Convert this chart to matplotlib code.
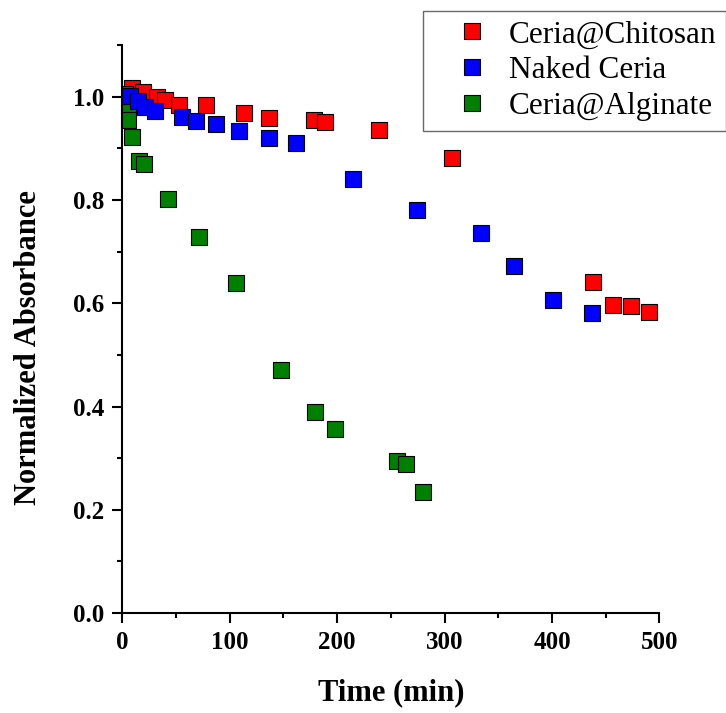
import matplotlib
matplotlib.use("Agg")
import matplotlib.pyplot as plt
from matplotlib.ticker import MultipleLocator

plt.rcParams['font.family'] = ['Liberation Serif', 'DejaVu Serif']

# Ceria@Chitosan
chitosan_t = [9, 19, 32, 40, 53, 78, 113, 137, 178, 189, 239, 307, 438, 457, 474, 490]
chitosan_a = [1.016, 1.010, 1.000, 0.994, 0.983, 0.983, 0.969, 0.959, 0.955, 0.951,
              0.936, 0.882, 0.641, 0.596, 0.594, 0.583]

# Naked Ceria
naked_t = [7, 15, 21, 30, 56, 69, 87, 109, 137, 162, 215, 274, 334, 365, 401, 437]
naked_a = [1.002, 0.992, 0.981, 0.973, 0.961, 0.953, 0.947, 0.934, 0.920, 0.911,
           0.841, 0.781, 0.736, 0.672, 0.606, 0.581]

# Ceria@Alginate
alginate_t = [2.5, 5, 5, 9, 15.5, 20, 42.5, 71, 106, 148, 179, 198, 256, 264, 280]
alginate_a = [1.006, 0.981, 0.955, 0.922, 0.876, 0.870, 0.802, 0.728, 0.639, 0.470,
              0.390, 0.357, 0.295, 0.289, 0.235]

fig = plt.figure(figsize=(7.26, 7.13), dpi=100)
ax = fig.add_axes([0.1685, 0.1402, 0.7397, 0.7966])

style = dict(linestyle='none', marker='s', markersize=11, markeredgecolor='black',
             markeredgewidth=0.8)
ax.plot(chitosan_t, chitosan_a, color='#FF0000', label='Ceria@Chitosan', **style)
ax.plot(alginate_t, alginate_a, color='#008000', label='Ceria@Alginate', zorder=2.1, **style)
ax.plot(naked_t, naked_a, color='#0000FF', label='Naked Ceria', zorder=2.2, **style)

ax.set_xlim(0, 500)
ax.set_ylim(0, 1.1)
ax.xaxis.set_major_locator(MultipleLocator(100))
ax.xaxis.set_minor_locator(MultipleLocator(50))
ax.yaxis.set_major_locator(MultipleLocator(0.2))
ax.yaxis.set_minor_locator(MultipleLocator(0.1))
ax.yaxis.set_major_formatter(plt.FormatStrFormatter('%.1f'))

ax.spines['top'].set_visible(False)
ax.spines['right'].set_visible(False)
for s in ['left', 'bottom']:
    ax.spines[s].set_linewidth(1.5)

ax.tick_params(which='major', direction='out', length=7, width=1.5, pad=6)
ax.tick_params(which='minor', direction='out', length=3.6, width=1.5)
for lab in ax.get_xticklabels() + ax.get_yticklabels():
    lab.set_fontsize(18)
    lab.set_fontweight('bold')

ax.set_xlabel('Time (min)', fontsize=22, fontweight='bold')
ax.set_ylabel('Normalized Absorbance', fontsize=22, fontweight='bold')
ax.xaxis.set_label_coords(0.5, -0.114)
ax.yaxis.set_label_coords(-0.147, 0.467)

# legend sits in the top right corner, partly cut by the figure edge
handles, labels = ax.get_legend_handles_labels()
order = [0, 2, 1]
leg = fig.legend([handles[i] for i in order], [labels[i] for i in order],
                 loc='upper left', bbox_to_anchor=(423 / 726, 1 - 11 / 713),
                 borderaxespad=0, fontsize=22.5, frameon=True, fancybox=False,
                 borderpad=0.3, handlelength=2.55, handletextpad=-0.1,
                 labelspacing=0.22)
leg.get_frame().set_edgecolor('#444444')
leg.get_frame().set_linewidth(1.0)

plt.savefig('out.png', dpi=100)
